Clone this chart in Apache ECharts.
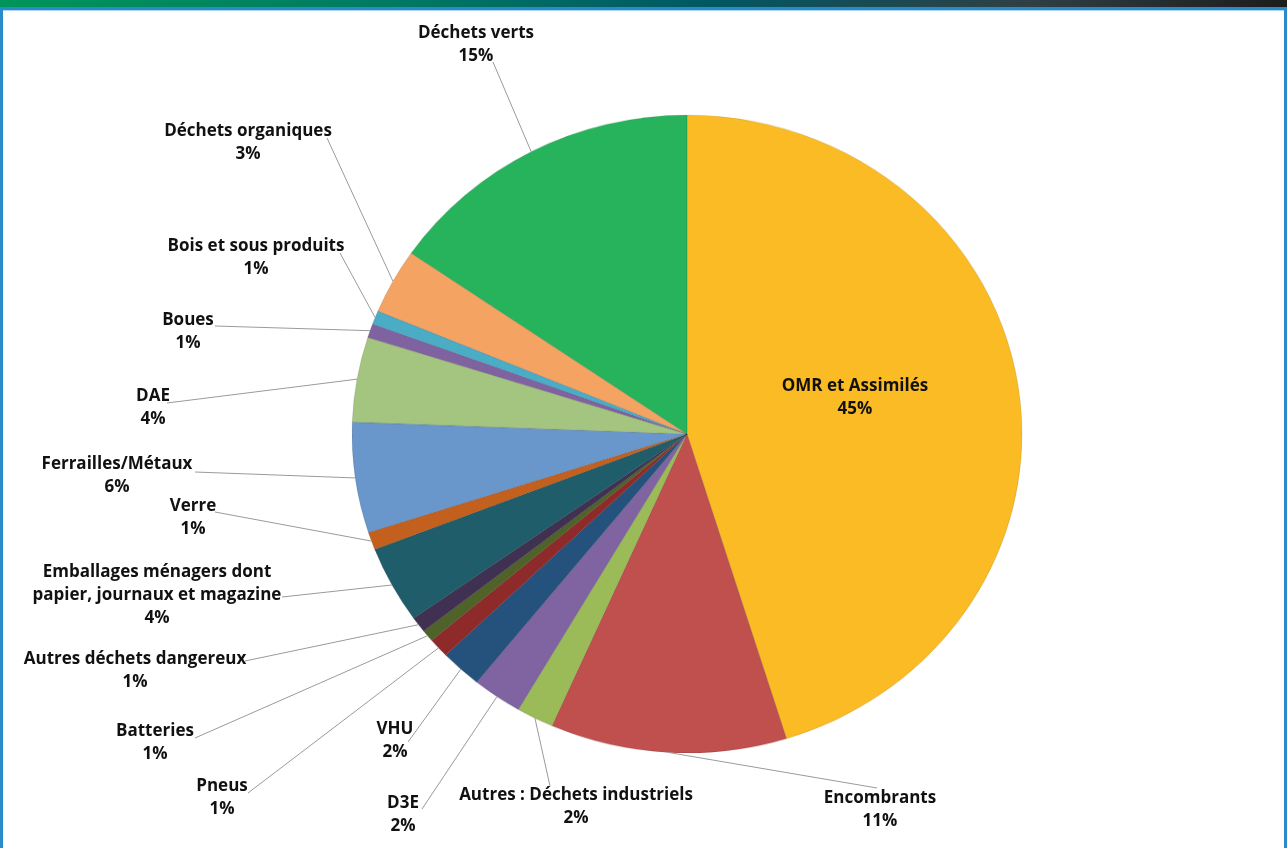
<!DOCTYPE html>
<html>
<head>
<meta charset="utf-8">
<script src="https://cdn.jsdelivr.net/npm/echarts@6/dist/echarts.min.js"></script>
<style>
  html, body { margin: 0; padding: 0; background: #fff; }
  #wrap { position: relative; width: 1287px; height: 848px; overflow: hidden; background: #fff; }
  #topband { position: absolute; left: 0; top: 0; width: 1287px; height: 7px;
    background: linear-gradient(to right, #00955a 0%, #007a63 30%, #005863 55%, #2f3f45 80%, #1c1c1c 100%); }
  #frame { position: absolute; left: 0; top: 7px; width: 1281px; height: 850px;
    border: 3px solid #2a8bcb; box-shadow: inset 0 1px 0 #a9d6f2; }
  /* the original pie is slightly squashed vertically (Excel export), so the slice layer is scaled */
  #pie { position: absolute; left: 0; top: 0; width: 1287px; height: 848px;
    transform: scaleY(0.952); transform-origin: 0 434px; }
  #labels { position: absolute; left: 0; top: 0; width: 1287px; height: 848px; }
</style>
</head>
<body>
<div id="wrap">
  <div id="topband"></div>
  <div id="frame"></div>
  <div id="pie"></div>
  <div id="labels"></div>
</div>
<script>
// categories, clockwise from 12 o'clock
const categories = [
  "OMR et Assimilés",
  "Encombrants",
  "Autres : Déchets industriels",
  "D3E",
  "VHU",
  "Pneus",
  "Batteries",
  "Autres déchets dangereux",
  "Emballages ménagers dont\npapier, journaux et magazine",
  "Verre",
  "Ferrailles/Métaux",
  "DAE",
  "Boues",
  "Bois et sous produits",
  "Déchets organiques",
  "Déchets verts"
];

// share of tonnage (%)
const shares = [45.2, 11.4, 1.8, 2.4, 2.0, 1.0, 0.6, 0.8, 3.9, 0.9, 5.6, 4.3, 0.7, 0.7, 3.3, 15.4];

const colors = [
  "#fbbb24", "#c0504d", "#9bbb59", "#8064a2", "#24527c", "#8e2a2a",
  "#4f6228", "#403152", "#1f5d6a", "#c4601e", "#6a97cb", "#a4c57f",
  "#7f62a0", "#4bacc6", "#f5a363", "#27b25c"
];

// where Excel put each label: [text centre x, text centre y, line end x, line end y]
const labelSpots = [
  [855, 398, null, null],
  [880, 810, 877, 788],
  [576, 807, 550, 786],
  [403, 815, 422, 809],
  [395, 741, 408, 742],
  [222, 798, 248, 793],
  [155, 743, 195, 738],
  [135, 671, 245, 661],
  [157, 595, 282, 597],
  [193, 518, 215, 512],
  [117, 476, 195, 472],
  [153, 408, 167, 403],
  [188, 332, 215, 326],
  [256, 258, 340, 253],
  [248, 143, 327, 138],
  [476, 45, 493, 62]
];

const SQUASH = 0.952;
const CX = 687, CY = 434, R = 335;

const total = shares.reduce((a, b) => a + b, 0);

const pieChart = echarts.init(document.getElementById("pie"));
const labelChart = echarts.init(document.getElementById("labels"));

const baseSeries = {
  type: "pie",
  center: [CX, CY],
  radius: R,
  startAngle: 90,
  clockwise: true,
  avoidLabelOverlap: false
};

// slices
pieChart.setOption({
  animation: false,
  series: [
    Object.assign({}, baseSeries, {
      data: categories.map((name, i) => ({ name: name, value: shares[i], itemStyle: { color: colors[i] } })),
      itemStyle: { borderColor: "rgba(0,0,0,0.10)", borderWidth: 1 },
      label: { show: false },
      labelLine: { show: false }
    })
  ]
});

// labels and leader lines on an unscaled layer
const labelData = categories.map((name, i) => {
  const item = { name: name, value: shares[i] };
  if (i === 0) {
    item.label = { position: "inside" };
    item.labelLine = { show: false };
  }
  return item;
});

labelChart.setOption({
  animation: false,
  series: [
    Object.assign({}, baseSeries, {
      silent: true,
      data: labelData,
      itemStyle: { color: "rgba(0,0,0,0)", borderWidth: 0 },
      label: {
        show: true,
        color: "#111",
        fontFamily: "Open Sans",
        fontWeight: "bold",
        fontSize: 17,
        lineHeight: 23,
        align: "center",
        formatter: (p) => p.name + "\n" + Math.round(p.value / total * 100) + "%"
      },
      labelLine: {
        show: true,
        length: 10,
        length2: 10,
        lineStyle: { color: "#9a9a9a", width: 1 }
      },
      labelLayout: (params) => {
        const spot = labelSpots[params.dataIndex];
        const out = { x: spot[0], y: spot[1], align: "center", verticalAlign: "middle" };
        if (spot[2] != null && params.labelLinePoints) {
          const p0 = params.labelLinePoints[0];
          const start = [p0[0], CY + (p0[1] - CY) * SQUASH];
          const end = [spot[2], spot[3]];
          out.labelLinePoints = [start, end, end];
        }
        return out;
      }
    })
  ]
});

window.addEventListener("resize", () => {
  pieChart.resize();
  labelChart.resize();
});
</script>
</body>
</html>
